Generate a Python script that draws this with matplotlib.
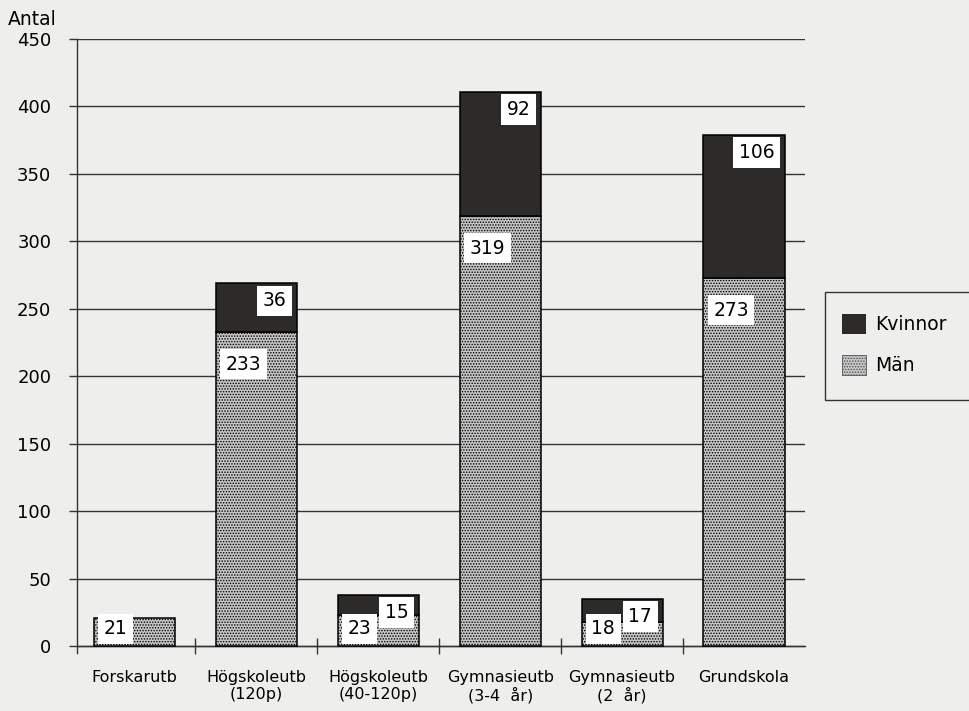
import matplotlib
matplotlib.use("Agg")
import matplotlib.pyplot as plt
from matplotlib.patches import Rectangle, Patch
import numpy as np

plt.rcParams['font.family'] = ['DejaVu Sans']
plt.rcParams['hatch.linewidth'] = 0.7

# Utbildningsnivå, antal män och kvinnor
categories = ["Forskarutb", "Högskoleutb\n(120p)", "Högskoleutb\n(40-120p)",
              "Gymnasieutb\n(3-4  år)", "Gymnasieutb\n(2  år)", "Grundskola"]
man = [21, 233, 23, 319, 18, 273]
kvinnor = [0, 36, 15, 92, 17, 106]
yticks = [0, 50, 100, 150, 200, 250, 300, 350, 400, 450]

bg = '#eeeeec'
dark = '#2d2a2a'
light = '#c6c6c6'

fig = plt.figure(figsize=(9.69, 7.11), dpi=100, facecolor=bg)
ax = fig.add_axes([77/969, 1 - 652.7/711, (805 - 77)/969, (652.7 - 39)/711])
ax.set_facecolor(bg)

x = np.arange(len(categories))
w = 0.665
ax.bar(x, man, width=w, color=light, edgecolor='black', hatch='......',
       linewidth=1.1, zorder=3)
k_edges = ['black' if k > 0 else 'none' for k in kvinnor]
ax.bar(x, kvinnor, width=w, bottom=man, color=dark, edgecolor=k_edges,
       linewidth=1.1, zorder=3)

ax.set_xlim(-0.47, 5.5)
ax.set_ylim(-5, 450)

# axes, grid and ticks
for s in ['top', 'right']:
    ax.spines[s].set_visible(False)
ax.spines['left'].set_color('#333333')
ax.spines['left'].set_linewidth(1.0)
ax.spines['bottom'].set_position(('data', 0))
ax.spines['bottom'].set_color('#333333')
ax.spines['bottom'].set_linewidth(1.0)

ax.set_yticks(yticks)
ax.set_yticklabels([str(v) for v in yticks], fontsize=13)
ax.yaxis.grid(True, color='#333333', linewidth=1.0, zorder=0)
ax.set_axisbelow(True)
ax.tick_params(axis='y', length=5.5, width=1.0, color='#333333', pad=13)

ax.set_xticks(x)
ax.set_xticklabels(categories, fontsize=11.5, linespacing=1.18)
ax.set_xticks(x[:-1] + 0.5, minor=True)
ax.tick_params(axis='x', which='major', length=0, pad=17)
ax.tick_params(axis='x', which='minor', direction='inout', length=12,
               width=1.0, color='#333333')

fig.text(8/969, 1 - 25/711, "Antal", fontsize=13.5, ha='left', va='baseline')

# value labels in white boxes
box = dict(boxstyle='square,pad=0.3', facecolor='white', edgecolor='none')
for xi, m, k in zip(x, man, kvinnor):
    left = xi - w / 2
    right = xi + w / 2
    top_m = max(m - 13, 24)
    ax.annotate(str(m), (left, top_m), xytext=(7, -4),
                textcoords='offset points', ha='left', va='top',
                fontsize=13.5, bbox=box, zorder=5)
    if k > 0:
        ax.annotate(str(k), (right, m + k), xytext=(-7.5, -6),
                    textcoords='offset points', ha='right', va='top',
                    fontsize=13.5, bbox=box, zorder=5)

# legend with a frame that runs off the right edge
fig.patches.append(Rectangle((825/969, 1 - 400/711), 0.2, 108/711,
                             transform=fig.transFigure, fill=False,
                             edgecolor='#333333', linewidth=1.0))
handles = [Patch(facecolor=dark, edgecolor='none', label='Kvinnor'),
           Patch(facecolor=light, edgecolor='#555555', hatch='......',
                 linewidth=0.6, label='Män')]
fig.legend(handles=handles, loc='upper left',
           bbox_to_anchor=(829/969, 1 - 301/711), frameon=False,
           fontsize=13.5, handlelength=1.25, handleheight=1.25,
           handletextpad=0.5, labelspacing=1.1, borderpad=0.2)

fig.savefig('out.png', dpi=100, facecolor=bg)
